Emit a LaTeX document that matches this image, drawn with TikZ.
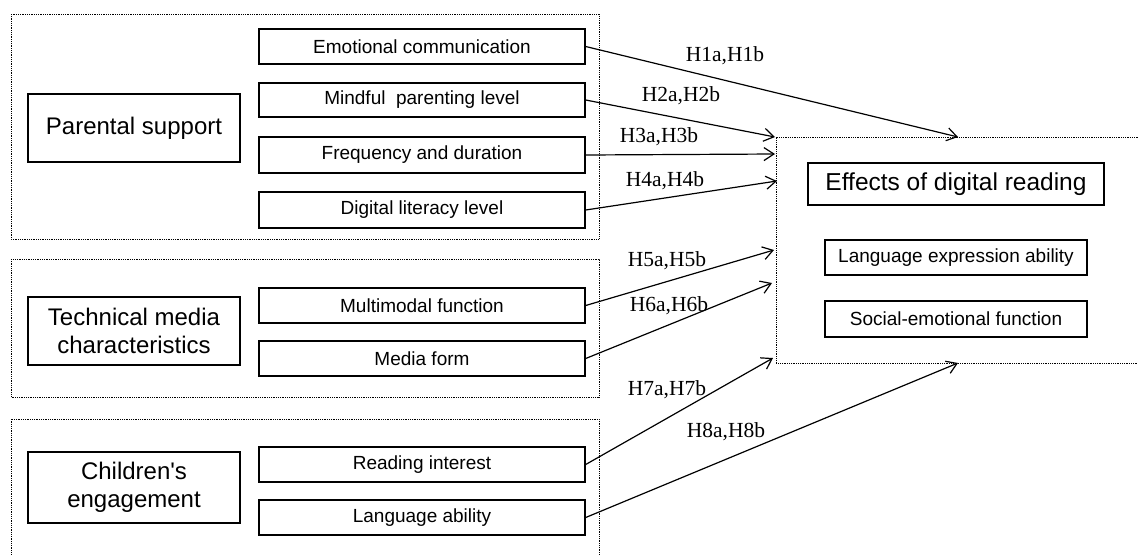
\documentclass[tikz,border=0pt]{standalone}
\usepackage{fontspec}
\setmainfont{Liberation Serif}
\setsansfont{Liberation Sans}[Ligatures=TeXOff]
\usetikzlibrary{arrows.meta}
\begin{document}
\begin{tikzpicture}[x=1pt,y=-1pt,
  grp/.style={line width=0.9pt,dash pattern=on 0.9pt off 0.9pt},
  bigbox/.style={draw,line width=1.4pt,inner sep=0pt,minimum width=212pt,align=center,
    font=\sffamily\fontsize{24}{28}\selectfont},
  subbox/.style={draw,line width=1.4pt,inner sep=0pt,minimum width=326pt,minimum height=35pt,
    font=\sffamily\fontsize{19}{22}\selectfont},
  effbox/.style={draw,line width=1.4pt,inner sep=0pt,minimum width=262pt,minimum height=35pt,
    font=\sffamily\fontsize{19}{22}\selectfont},
  hyp/.style={anchor=base,inner sep=0pt,font=\rmfamily\fontsize{21.5}{24}\selectfont},
  link/.style={line width=1.2pt,-{Straight Barb[length=10pt,width=13pt,line width=1.2pt]}}]
\useasboundingbox (0,0) rectangle (1138,555);
% group frames
\draw[grp] (11,14) rectangle (599,239);
\draw[grp] (11,259) rectangle (599,397);
\draw[grp] (11,560) -- (11,419) -- (599,419) -- (599,560);
\draw[grp] (1140,137) -- (776,137) -- (776,363) -- (1140,363);
% left group boxes
\node[bigbox,minimum height=68pt] (ps) at (134,128) {Parental support};
\node[bigbox,minimum height=68pt] (tm) at (134,331) {Technical media\\characteristics};
\node[bigbox,minimum height=71pt] (ce) at (134,487.5) {Children's\\engagement};
% factor boxes
\node[subbox] (e1) at (422,46.5) {Emotional communication};
\node[subbox,minimum height=34pt] (e2) at (422,100) {Mindful\ \ parenting level};
\node[subbox,minimum height=36pt] (e3) at (422,155) {Frequency and duration};
\node[subbox,minimum height=36pt] (e4) at (422,210) {Digital literacy level};
\node[subbox] (t1) at (422,305.5) {Multimodal function};
\node[subbox] (t2) at (422,358.5) {Media form};
\node[subbox] (c1) at (422,464.5) {Reading interest};
\node[subbox] (c2) at (422,517.5) {Language ability};
% outcome boxes
\node[draw,line width=1.4pt,inner sep=0pt,minimum width=296pt,minimum height=42pt,
  font=\sffamily\fontsize{24.5}{28}\selectfont] (ef) at (956,184) {Effects of digital reading};
\node[effbox] (l1) at (956,257.5) {Language expression ability};
\node[effbox,minimum height=36pt] (l2) at (956,319) {Social-emotional function};
% arrow tips
\coordinate (p1) at (958,137);
\coordinate (p2) at (775,137);
\coordinate (p3) at (775,154);
\coordinate (p4) at (777,181);
\coordinate (p5) at (774,250);
\coordinate (p6) at (772,283);
\coordinate (p7) at (773,358);
\coordinate (p8) at (958,363);
\draw[link] (e1.east) -- (p1);
\draw[link] (e2.east) -- (p2);
\draw[link] (e3.east) -- (p3);
\draw[link] (e4.east) -- (p4);
\draw[link] (t1.east) -- (p5);
\draw[link] (t2.east) -- (p6);
\draw[link] (c1.east) -- (p7);
\draw[link] (c2.east) -- (p8);
% labels
\node[hyp] (h1) at (725,61.5) {H1a,H1b};
\node[hyp] (h2) at (681,101.5) {H2a,H2b};
\node[hyp] (h3) at (659,142) {H3a,H3b};
\node[hyp] (h4) at (665,186.5) {H4a,H4b};
\node[hyp] (h5) at (667,266) {H5a,H5b};
\node[hyp] (h6) at (669,311) {H6a,H6b};
\node[hyp] (h7) at (667,395.5) {H7a,H7b};
\node[hyp] (h8) at (726,437) {H8a,H8b};
\end{tikzpicture}
\end{document}
